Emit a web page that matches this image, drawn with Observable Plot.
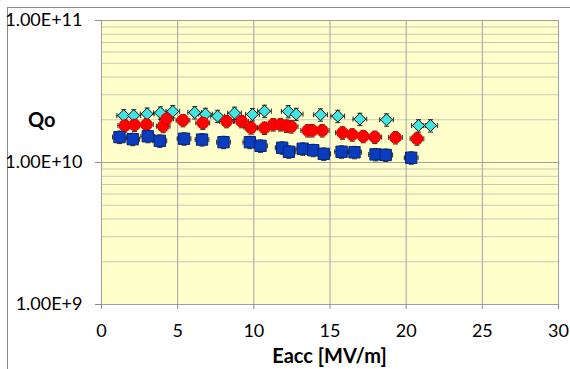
<!DOCTYPE html>
<html><head><meta charset="utf-8">
<script src="https://cdn.jsdelivr.net/npm/d3@7"></script>
<script src="https://cdn.jsdelivr.net/npm/@observablehq/plot@0.6"></script>
<style>
html,body{margin:0;padding:0;background:#fff;overflow:hidden;}
#wrap{position:relative;width:570px;height:369px;overflow:hidden;font-family:Lato,"Open Sans",sans-serif;color:#000;}
#frame{position:absolute;left:7px;top:7px;width:700px;height:500px;border:1px solid #8c8c8c;box-sizing:border-box;}
#chart{position:absolute;left:0;top:0;}
#qo{position:absolute;left:28px;top:107px;font-weight:bold;font-size:20px;line-height:24px;}
#xt{position:absolute;left:101px;width:457px;top:343px;text-align:center;font-weight:bold;font-size:20px;line-height:24px;}
#chart svg text{font-size:18px;}
</style>
</head><body>
<div id="wrap"><div id="frame"></div><div id="chart"></div><div id="qo">Qo</div><div id="xt">Eacc [MV/m]</div></div>
<script>
// Series 1: cyan diamonds
const eaccCyan = [1.46,2.12,3.00,3.87,4.68,6.12,6.83,7.62,8.73,9.91,10.70,12.26,12.78,14.38,15.51,16.96,18.71,20.81,21.60];
const qoCyan   = [2.14e10,2.14e10,2.20e10,2.24e10,2.29e10,2.25e10,2.19e10,2.12e10,2.23e10,2.18e10,2.30e10,2.29e10,2.19e10,2.17e10,2.12e10,2.02e10,2.00e10,1.82e10,1.82e10];
// Series 2: red circles
const eaccRed = [1.53,2.17,2.95,4.05,4.27,5.35,6.65,8.21,9.19,9.81,10.70,11.27,11.75,12.14,12.45,13.54,13.83,14.49,15.82,16.46,17.18,17.94,19.30,20.71];
const qoRed   = [1.82e10,1.84e10,1.85e10,1.80e10,2.03e10,1.98e10,1.90e10,1.95e10,1.95e10,1.76e10,1.75e10,1.85e10,1.85e10,1.81e10,1.79e10,1.68e10,1.68e10,1.68e10,1.62e10,1.57e10,1.53e10,1.51e10,1.50e10,1.47e10];
// Series 3: blue squares
const eaccBlue = [1.18,2.05,3.04,3.83,5.42,6.60,8.01,9.74,10.44,11.86,12.30,13.21,13.90,14.59,15.76,16.61,17.99,18.66,20.33];
const qoBlue   = [1.51e10,1.46e10,1.53e10,1.42e10,1.47e10,1.45e10,1.39e10,1.39e10,1.31e10,1.27e10,1.19e10,1.25e10,1.22e10,1.15e10,1.19e10,1.18e10,1.14e10,1.13e10,1.08e10];
// error magnitudes
const errEacc = 0.45;      // MV/m
const errQoFrac = 0.10;    // relative
// ticks
const xTicks = [0,5,10,15,20,25,30];
const yTicks = [1e9,1e10,1e11];
const yMinor = [2e9,3e9,4e9,5e9,6e9,7e9,8e9,9e9,2e10,3e10,4e10,5e10,6e10,7e10,8e10,9e10];

const toRows = (xs, ys) => xs.map((x,i)=>({x, y: ys[i]}));
const cyan = toRows(eaccCyan, qoCyan);
const red = toRows(eaccRed, qoRed);
const blue = toRows(eaccBlue, qoBlue);

const vbar = {draw(c,s){const r=Math.sqrt(s/Math.PI); c.moveTo(0,-r); c.lineTo(0,r);}};
const hbar = {draw(c,s){const r=Math.sqrt(s/Math.PI); c.moveTo(-r,0); c.lineTo(r,0);}};

function errMarks(rows){
  const st = {stroke:"#262626", strokeWidth:1};
  return [
    Plot.ruleY(rows, {y:"y", x1:d=>d.x-errEacc, x2:d=>d.x+errEacc, ...st}),
    Plot.ruleX(rows, {x:"x", y1:d=>d.y*(1-errQoFrac), y2:d=>d.y*(1+errQoFrac), ...st}),
    Plot.dot(rows, {x:d=>d.x-errEacc, y:"y", symbol:vbar, r:2.5, fill:"none", ...st}),
    Plot.dot(rows, {x:d=>d.x+errEacc, y:"y", symbol:vbar, r:2.5, fill:"none", ...st}),
    Plot.dot(rows, {x:"x", y:d=>d.y*(1-errQoFrac), symbol:hbar, r:2.5, fill:"none", ...st}),
    Plot.dot(rows, {x:"x", y:d=>d.y*(1+errQoFrac), symbol:hbar, r:2.5, fill:"none", ...st})
  ];
}

const chart = Plot.plot({
  width:570, height:369,
  marginLeft:101, marginRight:12, marginTop:20, marginBottom:65,
  style:{fontFamily:"Lato, 'Open Sans', sans-serif", fontSize:"18px", background:"transparent", color:"#000"},
  x:{domain:[0,30]},
  y:{type:"log", domain:[1e9,1e11]},
  marks:[
    Plot.frame({fill:"#ffffcc", stroke:null}),
    Plot.ruleY(yMinor, {stroke:"#c8c8b8", strokeWidth:1}),
    Plot.ruleY(yTicks, {stroke:"#a0a0a0", strokeWidth:1}),
    Plot.ruleX(xTicks, {stroke:"#a0a0a0", strokeWidth:1}),
    Plot.axisY({ticks:yTicks, tickSize:6, tickPadding:13, stroke:"#8c8c8c", fill:"#000", label:null,
      tickFormat:d=>d.toExponential(2).toUpperCase()}),
    Plot.axisX({ticks:xTicks, tickSize:5, tickPadding:15, stroke:"#8c8c8c", fill:"#000", label:null, tickFormat:d=>String(d)}),
    ...errMarks(cyan),
    ...errMarks(red),
    ...errMarks(blue),
    Plot.dot(cyan, {x:"x", y:"y", symbol:"diamond2", r:5.4, fill:"#3fe4e4", stroke:"#111", strokeWidth:1, ariaLabel:"markers"}),
    Plot.dot(red, {x:"x", y:"y", symbol:"circle", r:5.8, fill:"#ff0000", stroke:"#e00000", strokeWidth:1, ariaLabel:"markers"}),
    Plot.dot(blue, {x:"x", y:"y", symbol:"square", r:6.4, fill:"#0a3cc0", stroke:"#06246e", strokeWidth:1, ariaLabel:"markers"})
  ]
});
chart.querySelectorAll('g[aria-label="markers"]').forEach(g=>{g.style.filter="drop-shadow(1.5px 1.5px 1px rgba(0,0,0,0.4))";});
document.getElementById("chart").appendChild(chart);
</script>
</body></html>
